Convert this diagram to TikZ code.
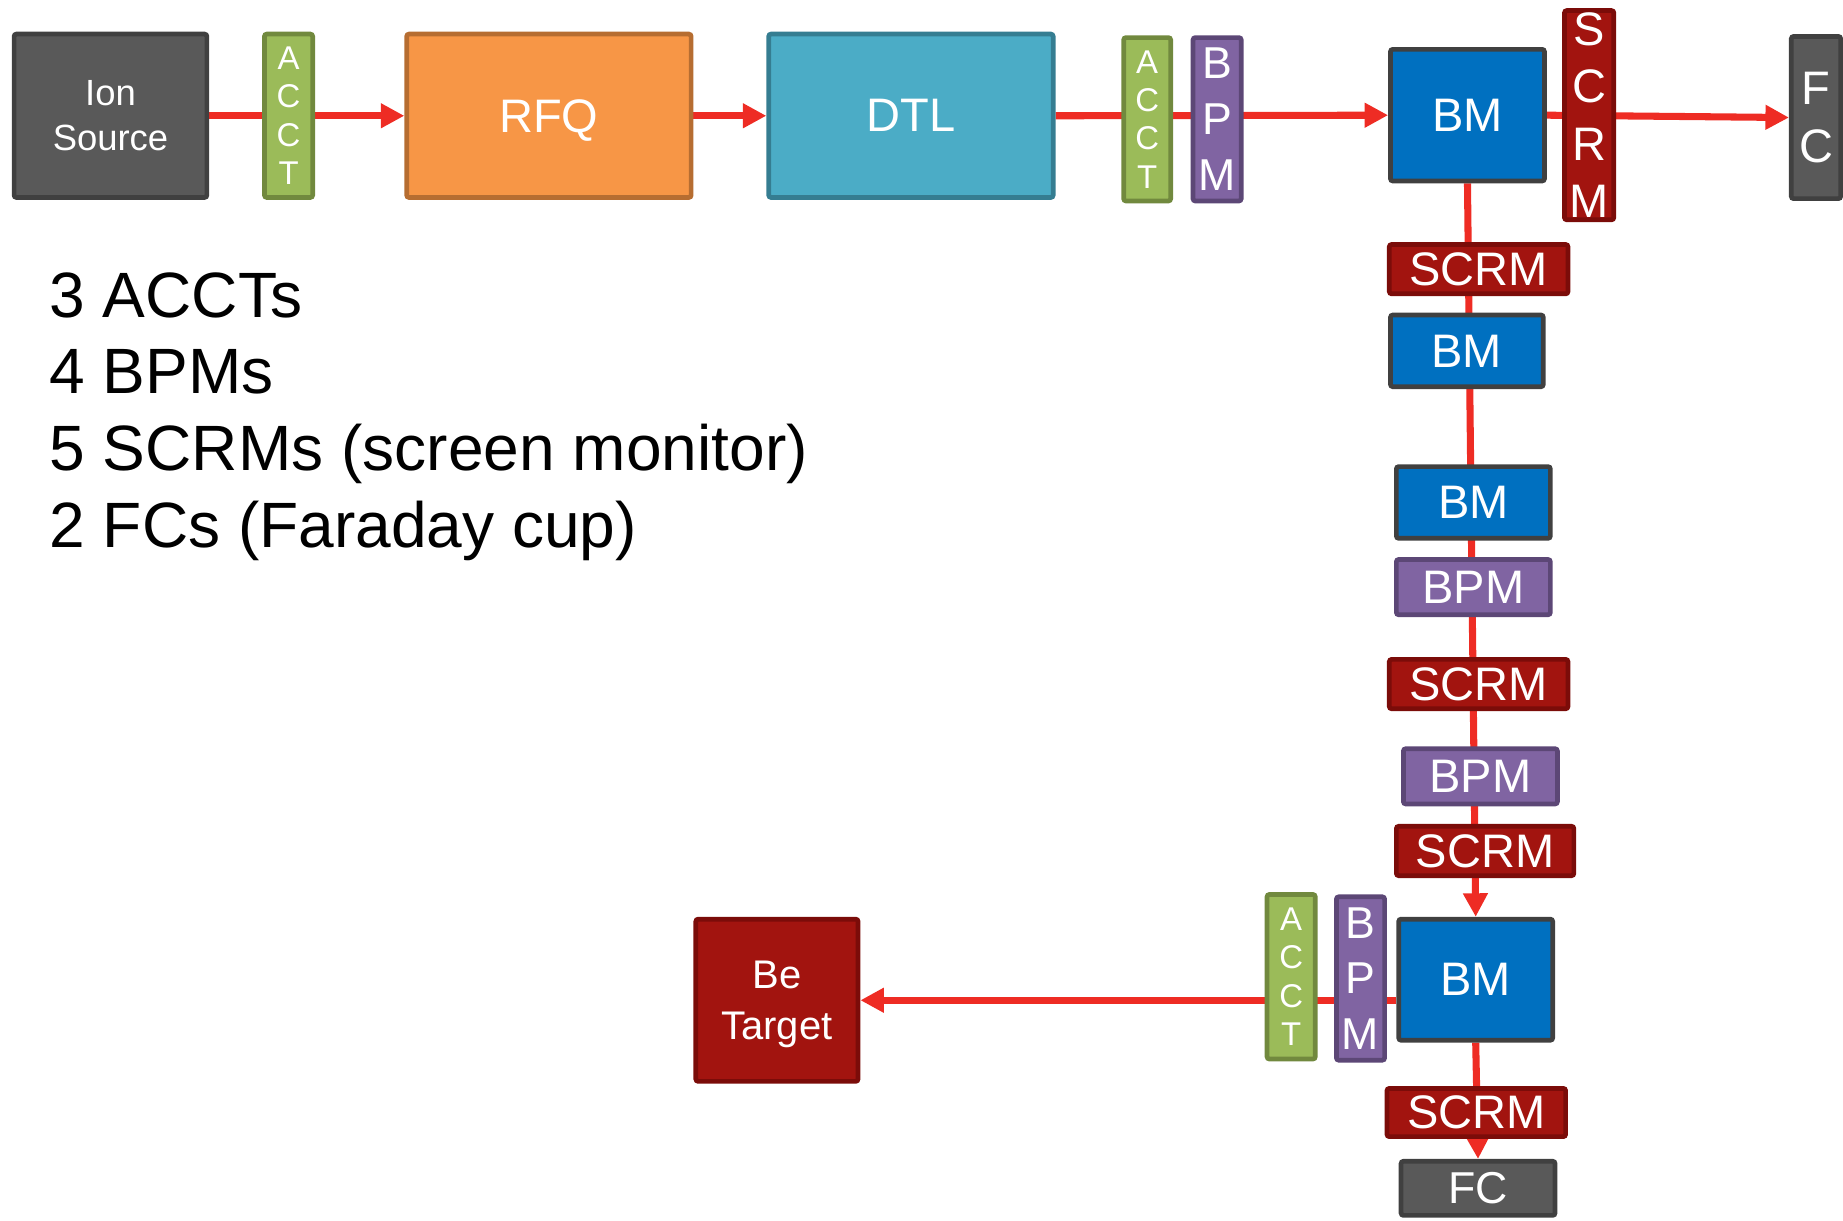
\documentclass[tikz,border=0pt]{standalone}
\usepackage{fontspec}
\setmainfont{Liberation Sans}
\usetikzlibrary{arrows.meta,backgrounds}

\definecolor{grayfill}{HTML}{595959}
\definecolor{graydraw}{HTML}{404040}
\definecolor{acctfill}{HTML}{9BBB59}
\definecolor{acctdraw}{HTML}{71893E}
\definecolor{rfqfill}{HTML}{F79646}
\definecolor{rfqdraw}{HTML}{B66D31}
\definecolor{dtlfill}{HTML}{4BACC6}
\definecolor{dtldraw}{HTML}{357D91}
\definecolor{bpmfill}{HTML}{8064A2}
\definecolor{bpmdraw}{HTML}{5C4776}
\definecolor{bmfill}{HTML}{0070C0}
\definecolor{scrmfill}{HTML}{A2140F}
\definecolor{scrmdraw}{HTML}{7B0C09}
\definecolor{beamred}{HTML}{EE2C24}

\newcommand\fsz[2]{\fontsize{#1}{#2}\selectfont}

\tikzset{
  box/.style={draw, line width=4pt, rounded corners=2pt, inner sep=0pt,
    text=white, align=center},
  graybox/.style={box, fill=grayfill, draw=graydraw},
  acctbox/.style={box, fill=acctfill, draw=acctdraw, font=\fsz{28}{32.6}},
  rfqbox/.style={box, fill=rfqfill, draw=rfqdraw},
  dtlbox/.style={box, fill=dtlfill, draw=dtldraw},
  bpmbox/.style={box, fill=bpmfill, draw=bpmdraw},
  bmbox/.style={box, fill=bmfill, draw=graydraw},
  scrmbox/.style={box, fill=scrmfill, draw=scrmdraw},
  beam/.style={draw=beamred, line width=6pt},
  beamarrow/.style={beam, -{Triangle[length=20pt,width=20pt]}},
  summary/.style={anchor=base west, inner sep=0pt, font=\fsz{54.5}{65}}
}

\begin{document}
\begin{tikzpicture}[x=1pt, y=-1pt]
\useasboundingbox (0,0) rectangle (1568,1038);

% main line through the linac
\node[graybox, minimum width=164pt, minimum height=139pt, font=\fsz{31}{38}] (ion) at (94,98.5) {Ion\\Source};
\node[acctbox, minimum width=41pt, minimum height=139pt] (acct1) at (245.5,98.5) {A\\C\\C\\T};
\node[rfqbox, minimum width=242pt, minimum height=139pt, font=\fsz{40}{48}, text depth=0pt] (rfq) at (467,98.5) {RFQ};
\node[dtlbox, minimum width=242pt, minimum height=139pt, font=\fsz{40}{48}] (dtl) at (775,98.5) {DTL};
\node[acctbox, minimum width=40pt, minimum height=139pt] (acct2) at (976,101.5) {A\\C\\C\\T};
\node[bpmbox, minimum width=41pt, minimum height=139pt, font=\fsz{38}{47.5}] (bpm1) at (1035.5,101.5) {B\\P\\M};
\node[bmbox, minimum width=131pt, minimum height=112pt, font=\fsz{40}{48}] (bm1) at (1248.5,98) {BM};
\node[scrmbox, minimum width=42pt, minimum height=178pt, font=\fsz{40}{49}] (scrm1) at (1352,98) {S\\C\\R\\M};
\node[graybox, minimum width=42pt, minimum height=138pt, font=\fsz{40}{49}] (fc1) at (1545,100) {F\\C};

% vertical branch
\node[scrmbox, minimum width=152pt, minimum height=42pt, font=\fsz{40}{48}] (scrm2) at (1258,229) {SCRM};
\node[bmbox, minimum width=130pt, minimum height=61pt, font=\fsz{40}{48}] (bm2) at (1248,298.5) {BM};
\node[bmbox, minimum width=131pt, minimum height=61pt, font=\fsz{40}{48}] (bm3) at (1253.5,427.5) {BM};
\node[bpmbox, minimum width=131pt, minimum height=47pt, font=\fsz{40}{48}] (bpm2) at (1253.5,499.5) {BPM};
\node[scrmbox, minimum width=152pt, minimum height=42pt, font=\fsz{40}{48}] (scrm3) at (1258,582) {SCRM};
\node[bpmbox, minimum width=131pt, minimum height=47pt, font=\fsz{40}{48}] (bpm3) at (1259.5,660.5) {BPM};
\node[scrmbox, minimum width=151pt, minimum height=42pt, font=\fsz{40}{48}] (scrm4) at (1263.5,724) {SCRM};
\node[bmbox, minimum width=131pt, minimum height=103pt, font=\fsz{40}{48}] (bm4) at (1255.5,833.5) {BM};
\node[scrmbox, minimum width=152pt, minimum height=41pt, font=\fsz{40}{48}] (scrm5) at (1256,946.5) {SCRM};
\node[graybox, minimum width=131pt, minimum height=46pt, font=\fsz{38}{46}] (fc2) at (1257.5,1011) {FC};

% target line
\node[bpmbox, minimum width=41pt, minimum height=139pt, font=\fsz{38}{47.5}] (bpm4) at (1157.5,832.5) {B\\P\\M};
\node[acctbox, minimum width=41pt, minimum height=140pt] (acct3) at (1098.5,831) {A\\C\\C\\T};
\node[scrmbox, minimum width=138pt, minimum height=138pt, font=\fsz{34}{44}, text depth=0pt] (be) at (661,851) {Be\\Target};

% beam path, drawn beneath the devices
\begin{scope}[on background layer]
  \draw[beamarrow] (ion.east) -- (rfq.west);
  \draw[beamarrow] (rfq.east) -- (dtl.west);
  \draw[beamarrow] (dtl.east) -- (bm1.west);
  \draw[beamarrow] (bm1.east) -- (fc1.west);
  \draw[beamarrow] (bm1.south) -- (bm4.north);
  \draw[beamarrow] (bm4.south) -- (fc2.north);
  \draw[beamarrow] (bm4.west |- be.east) -- (be.east);
\end{scope}

% device count summary
\node[summary] (n1) at (42,270) {3 ACCTs};
\node[summary] (n2) at (42,335) {4 BPMs};
\node[summary] (n3) at (42,400.5) {5 SCRMs (screen monitor)};
\node[summary] (n4) at (42,466) {2 FCs (Faraday cup)};
\end{tikzpicture}
\end{document}
